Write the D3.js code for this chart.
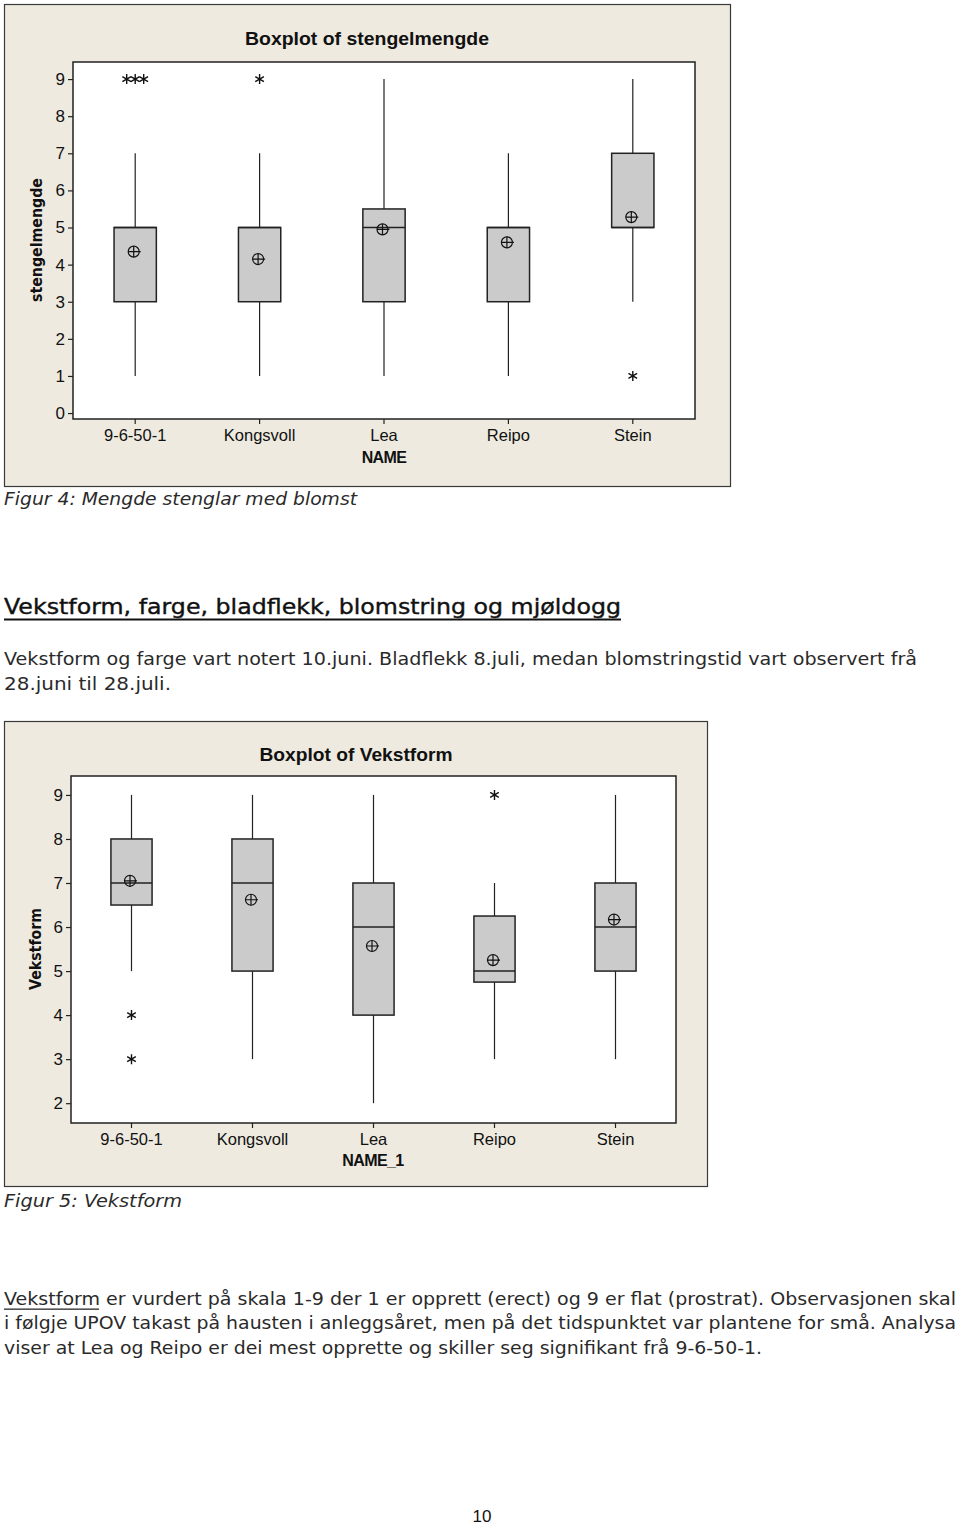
<!DOCTYPE html>
<html>
<head>
<meta charset="utf-8">
<script src="https://cdn.jsdelivr.net/npm/d3@7"></script>
<style>
  html, body { margin: 0; padding: 0; background: #ffffff; }
  svg { display: block; }
</style>
</head>
<body>
<svg id="page" width="960" height="1527"></svg>
<script>
// ---------------- DATA ----------------
const categories = ["9-6-50-1", "Kongsvoll", "Lea", "Reipo", "Stein"];

// Chart 1: stengelmengde
const stengQ1       = [3, 3, 3, 3, 5];
const stengMedian   = [5, 5, 5, 5, 5];
const stengQ3       = [5, 5, 5.5, 5, 7];
const stengLow      = [1, 1, 1, 1, 3];
const stengHigh     = [7, 7, 9, 7, 9];
const stengMean     = [4.35, 4.15, 4.95, 4.6, 5.28];
const stengOutliers = [[9, 9, 9], [9], [], [], [1]];
const stengTicks    = [0, 1, 2, 3, 4, 5, 6, 7, 8, 9];

// Chart 2: Vekstform
const vekstQ1       = [6.5, 5, 4, 4.75, 5];
const vekstMedian   = [7, 7, 6, 5, 6];
const vekstQ3       = [8, 8, 7, 6.25, 7];
const vekstLow      = [5, 3, 2, 3, 3];
const vekstHigh     = [9, 9, 9, 7, 9];
const vekstMean     = [7.05, 6.62, 5.57, 5.25, 6.17];
const vekstOutliers = [[4, 3], [], [], [9], []];
const vekstTicks    = [2, 3, 4, 5, 6, 7, 8, 9];

// ---------------- DRAW ----------------
const svg = d3.select("#page");
const chartFont = "'Liberation Sans', Arial, sans-serif";
const docFont = "'DejaVu Sans', Verdana, sans-serif";

function boxplot(cfg) {
  const g = svg.append("g");
  // outer frame
  g.append("rect")
    .attr("x", cfg.frame[0] + 0.5).attr("y", cfg.frame[1] + 0.5)
    .attr("width", cfg.frame[2]).attr("height", cfg.frame[3])
    .attr("fill", "#eeeae0").attr("stroke", "#3a3a3a").attr("stroke-width", 1.2);

  const [px, py, pw, ph] = cfg.plot;
  g.append("rect")
    .attr("x", px).attr("y", py).attr("width", pw).attr("height", ph)
    .attr("fill", "#ffffff");

  const x = d3.scaleBand().domain(categories).range([px, px + pw]).padding(0);
  const y = d3.scaleLinear().domain(cfg.domain).range([py + ph, py]);
  const cx = c => x(c) + x.bandwidth() / 2;
  const bw = x.bandwidth() * 0.34;

  // axes
  const yAxis = d3.axisLeft(y).tickValues(cfg.ticks).tickFormat(d3.format("d")).tickSize(5).tickPadding(3);
  const ya = g.append("g").attr("transform", `translate(${px},0)`).call(yAxis);
  const xAxis = d3.axisBottom(x).tickSize(5).tickPadding(5);
  const xa = g.append("g").attr("transform", `translate(0,${py + ph})`).call(xAxis);
  [ya, xa].forEach(a => {
    a.select(".domain").remove();
    a.selectAll("line").attr("stroke", "#222").attr("stroke-width", 1.2);
    a.selectAll("text").attr("font-family", chartFont).attr("fill", "#111");
  });
  ya.selectAll("text").attr("font-size", 17);
  xa.selectAll("text").attr("font-size", 16.5);

  // boxes
  categories.forEach((c, i) => {
    const xc = cx(c);
    // whiskers
    g.append("line").attr("x1", xc).attr("x2", xc)
      .attr("y1", y(cfg.q3[i])).attr("y2", y(cfg.high[i]))
      .attr("stroke", "#222").attr("stroke-width", 1.2);
    g.append("line").attr("x1", xc).attr("x2", xc)
      .attr("y1", y(cfg.q1[i])).attr("y2", y(cfg.low[i]))
      .attr("stroke", "#222").attr("stroke-width", 1.2);
    // box
    g.append("rect")
      .attr("x", xc - bw / 2).attr("y", y(cfg.q3[i]))
      .attr("width", bw).attr("height", y(cfg.q1[i]) - y(cfg.q3[i]))
      .attr("fill", "#cbcbcb").attr("stroke", "#222").attr("stroke-width", 1.5);
    // median
    g.append("line")
      .attr("x1", xc - bw / 2).attr("x2", xc + bw / 2)
      .attr("y1", y(cfg.median[i])).attr("y2", y(cfg.median[i]))
      .attr("stroke", "#222").attr("stroke-width", 1.5);
    // mean symbol
    const my = y(cfg.mean[i]);
    const mx = xc - 1.5;
    g.append("circle").attr("cx", mx).attr("cy", my).attr("r", 5.5)
      .attr("fill", "none").attr("stroke", "#111").attr("stroke-width", 1.2);
    g.append("path")
      .attr("d", `M${mx - 5.5},${my}H${mx + 7}M${mx},${my - 5.5}V${my + 5.5}`)
      .attr("stroke", "#111").attr("stroke-width", 1.2);
    // outliers
    const outs = cfg.outliers[i];
    const counts = {};
    outs.forEach(v => { counts[v] = (counts[v] || 0) + 1; });
    const seen = {};
    outs.forEach(v => {
      const n = counts[v];
      const k = seen[v] = (seen[v] || 0) + 1;
      const ox = xc + (k - 1 - (n - 1) / 2) * 8.5;
      const oy = y(v);
      const r = 5;
      const a = r * Math.cos(Math.PI / 6), b = r * Math.sin(Math.PI / 6);
      g.append("path")
        .attr("d", `M${ox},${oy - r}V${oy + r}M${ox - a},${oy - b}L${ox + a},${oy + b}M${ox - a},${oy + b}L${ox + a},${oy - b}`)
        .attr("stroke", "#111").attr("stroke-width", 1.4).attr("fill", "none");
    });
  });

  // plot border
  g.append("rect")
    .attr("x", px).attr("y", py).attr("width", pw).attr("height", ph)
    .attr("fill", "none").attr("stroke", "#222").attr("stroke-width", 1.5);

  // title
  g.append("text").attr("x", cfg.titlePos[0]).attr("y", cfg.titlePos[1])
    .attr("text-anchor", "middle").attr("font-family", chartFont)
    .attr("font-weight", "bold").attr("font-size", 18).attr("fill", "#111")
    .attr("textLength", cfg.titleLen).attr("lengthAdjust", "spacingAndGlyphs")
    .text(cfg.title);
  // y label
  g.append("text")
    .attr("transform", `translate(${cfg.yLabelPos[0]},${cfg.yLabelPos[1]}) rotate(-90)`)
    .attr("text-anchor", "middle").attr("font-family", docFont)
    .attr("font-weight", "bold").attr("font-size", 15).attr("fill", "#111")
    .attr("textLength", cfg.yLabelLen).attr("lengthAdjust", "spacingAndGlyphs")
    .text(cfg.yLabel);
  // x label
  g.append("text").attr("x", cfg.xLabelPos[0]).attr("y", cfg.xLabelPos[1])
    .attr("text-anchor", "middle").attr("font-family", chartFont)
    .attr("font-weight", "bold").attr("font-size", 16).attr("fill", "#111")
    .attr("letter-spacing", -0.6)
    .text(cfg.xLabel);
}

boxplot({
  frame: [4, 4, 726, 482],
  plot: [73, 62, 622, 357],
  domain: [-0.16, 9.46],
  ticks: stengTicks,
  q1: stengQ1, median: stengMedian, q3: stengQ3, low: stengLow, high: stengHigh,
  mean: stengMean, outliers: stengOutliers,
  title: "Boxplot of stengelmengde", titlePos: [367, 45], titleLen: 244,
  yLabel: "stengelmengde", yLabelPos: [42, 240], yLabelLen: 124,
  xLabel: "NAME", xLabelPos: [384, 463]
});

boxplot({
  frame: [4, 721, 703, 465],
  plot: [71, 776, 605, 347],
  domain: [1.55, 9.43],
  ticks: vekstTicks,
  q1: vekstQ1, median: vekstMedian, q3: vekstQ3, low: vekstLow, high: vekstHigh,
  mean: vekstMean, outliers: vekstOutliers,
  title: "Boxplot of Vekstform", titlePos: [356, 761], titleLen: 193,
  yLabel: "Vekstform", yLabelPos: [41, 949], yLabelLen: 82,
  xLabel: "NAME_1", xLabelPos: [373, 1166]
});

// ---------------- DOCUMENT TEXT ----------------
function docText(x, y, str, opts) {
  const t = svg.append("text").attr("x", x).attr("y", y)
    .attr("font-family", docFont).attr("font-size", opts.size || 18)
    .attr("fill", opts.fill || "#2a2a2a")
    .attr("font-style", opts.italic ? "italic" : "normal")
    .attr("font-weight", opts.bold ? "bold" : "normal")
    .text(str);
  if (opts.len) t.attr("textLength", opts.len).attr("lengthAdjust", "spacingAndGlyphs");
  return t;
}

docText(4, 505, "Figur 4: Mengde stenglar med blomst", { italic: true, len: 353, size: 18 });

const head = docText(4, 614, "Vekstform, farge, bladflekk, blomstring og mjøldogg", { len: 617, size: 22, fill: "#111" });
head.attr("font-weight", 500).attr("stroke", "#111").attr("stroke-width", 0.4);
svg.append("rect").attr("x", 4).attr("y", 618.5).attr("width", 617).attr("height", 2).attr("fill", "#111");

docText(4, 665, "Vekstform og farge vart notert 10.juni. Bladflekk 8.juli, medan blomstringstid vart observert frå", { len: 913 });
docText(4, 690, "28.juni til 28.juli.", { len: 167 });

docText(4, 1207, "Figur 5: Vekstform", { italic: true, len: 178, size: 18 });

docText(4, 1305, "Vekstform er vurdert på skala 1-9 der 1 er opprett (erect) og 9 er flat (prostrat). Observasjonen skal", { len: 952 });
svg.append("rect").attr("x", 4).attr("y", 1308.5).attr("width", 95).attr("height", 1.3).attr("fill", "#2a2a2a");
docText(4, 1329, "i følgje UPOV takast på hausten i anleggsåret, men på det tidspunktet var plantene for små. Analysa", { len: 952 });
docText(4, 1354, "viser at Lea og Reipo er dei mest opprette og skiller seg signifikant frå 9-6-50-1.", { len: 758 });

svg.append("text").attr("x", 482).attr("y", 1522).attr("text-anchor", "middle")
  .attr("font-family", chartFont).attr("font-size", 17).attr("fill", "#111").text("10");
</script>
</body>
</html>
